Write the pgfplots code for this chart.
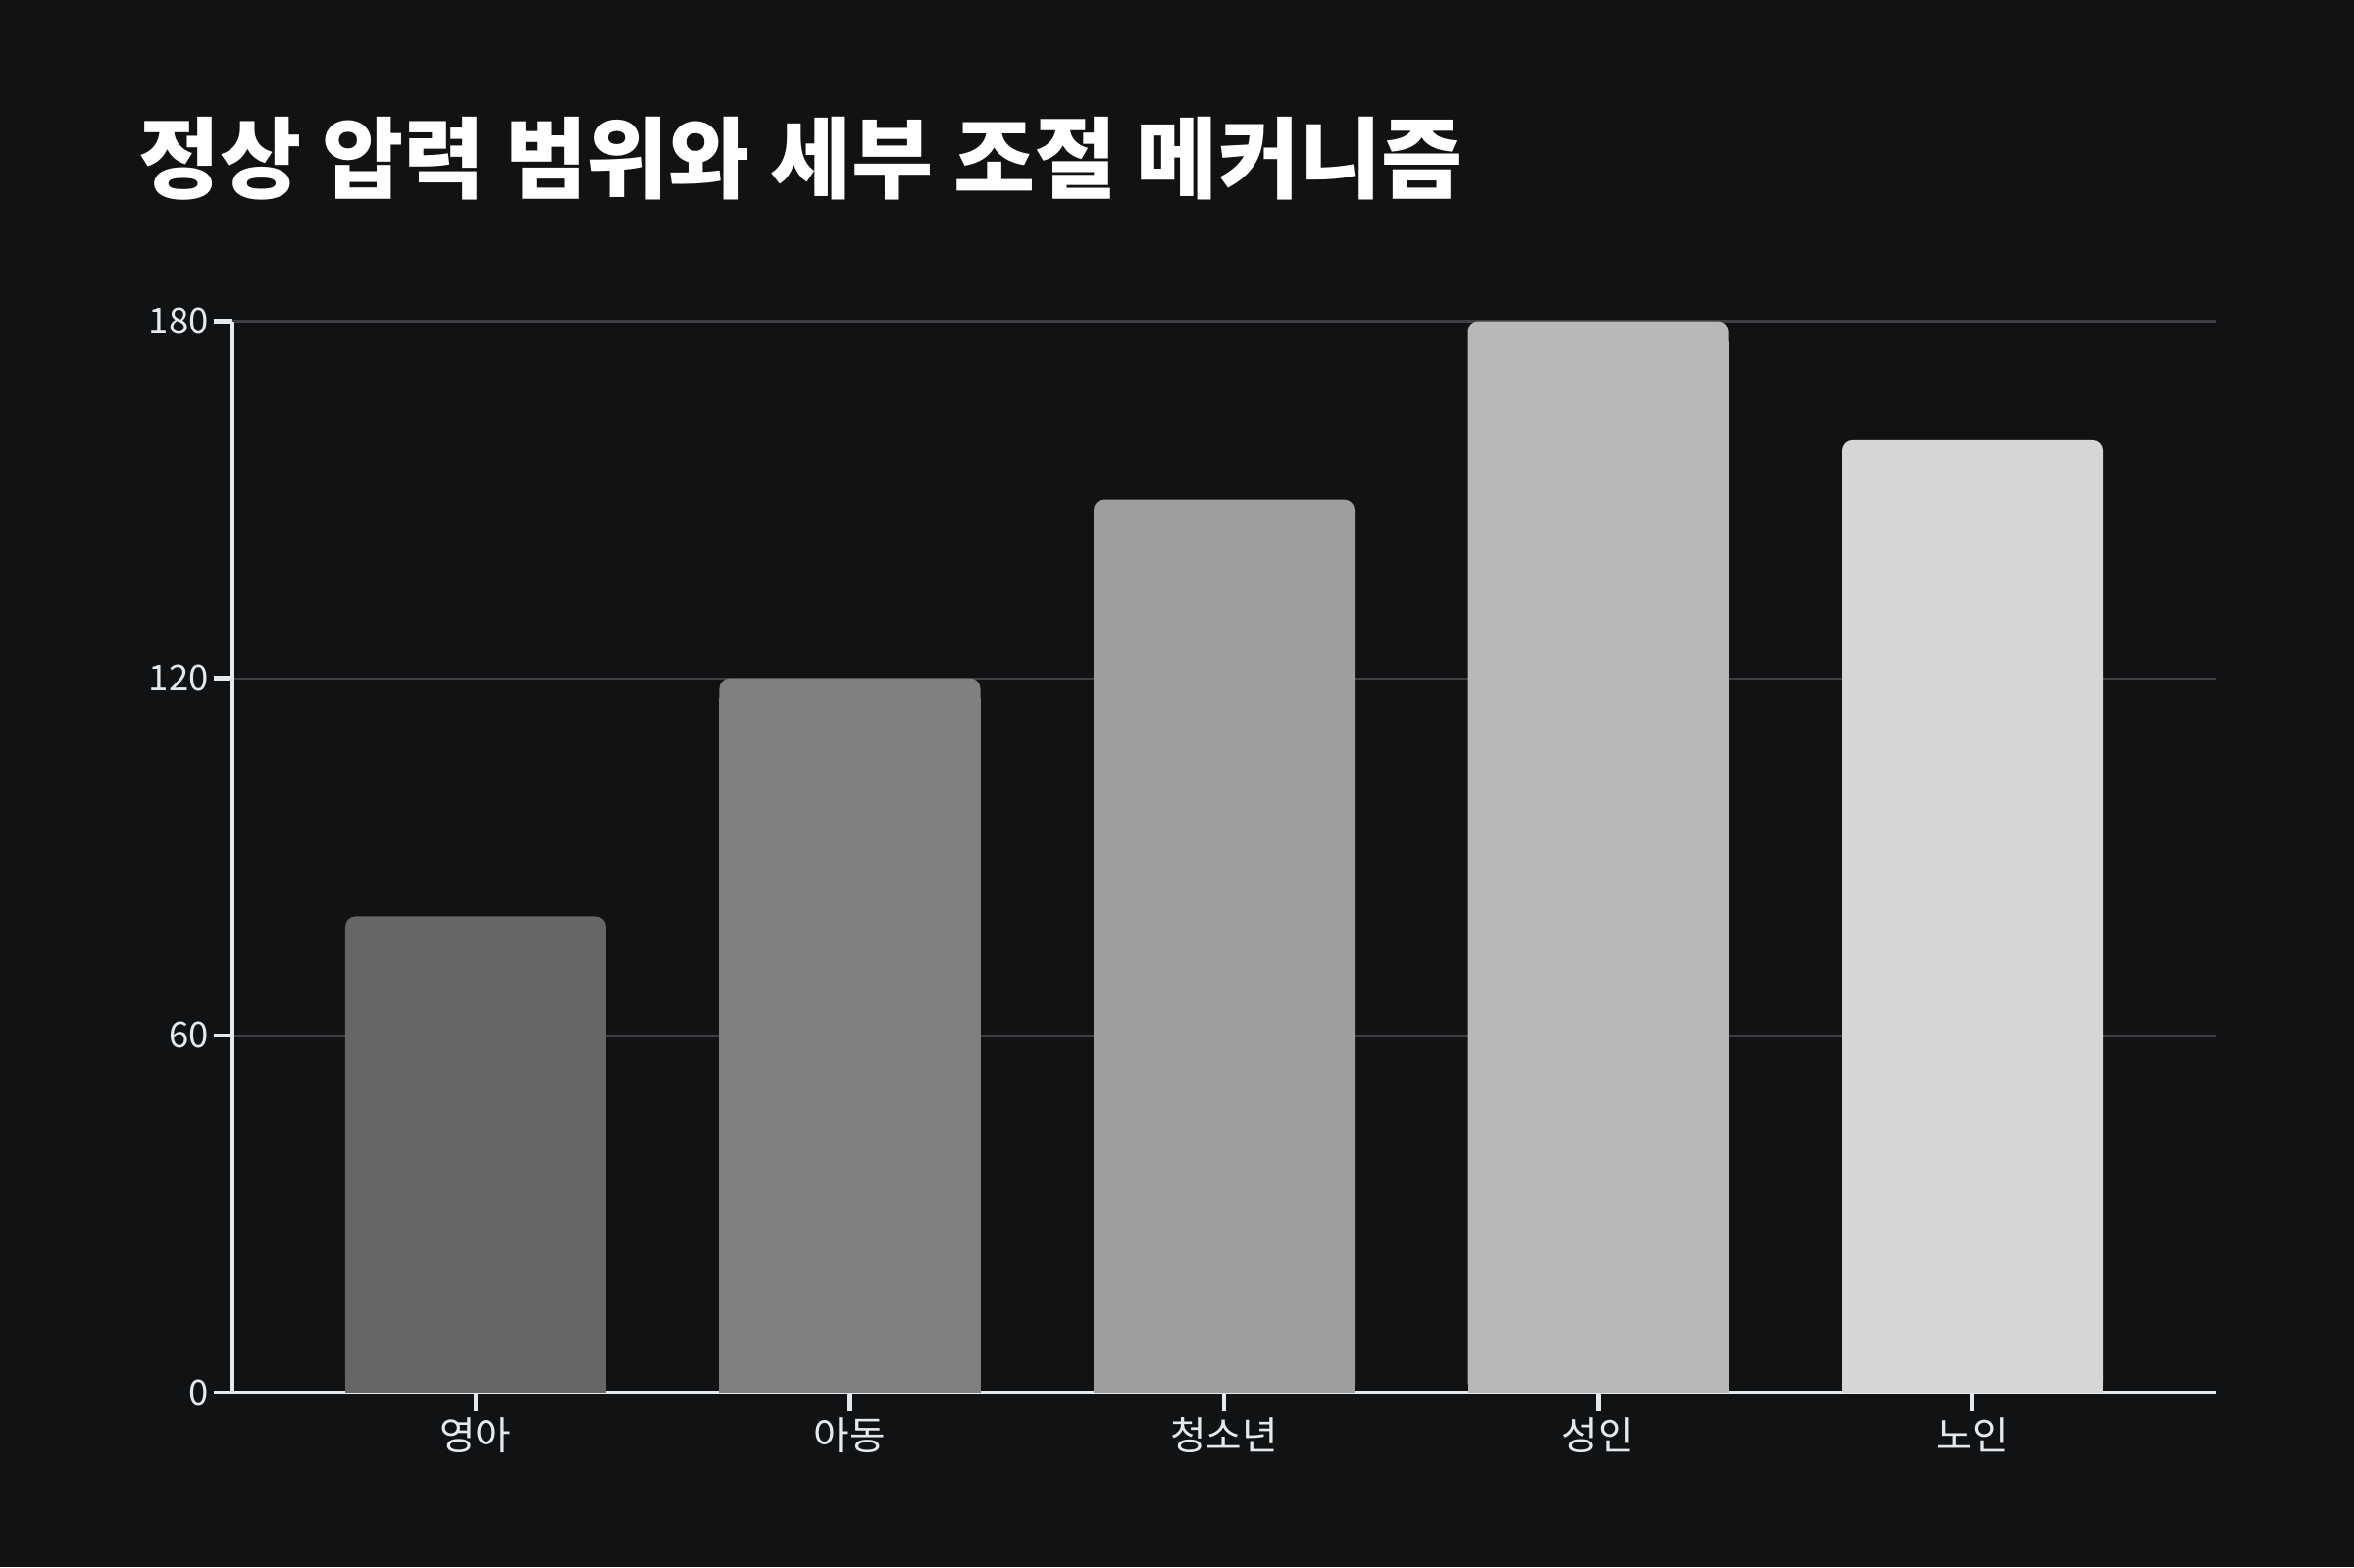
\documentclass[border=0pt]{standalone}
\usepackage{fontspec}
\setmainfont{Noto Sans CJK KR}
\usepackage{pgfplots}
\pgfplotsset{compat=1.18}
\definecolor{bgc}{HTML}{111214}
\definecolor{axc}{HTML}{E6E9EC}
\definecolor{gridc}{HTML}{3E3F42}
\definecolor{txtc}{HTML}{E6E9EC}
\definecolor{c1}{HTML}{666666}
\definecolor{c2}{HTML}{808080}
\definecolor{c3}{HTML}{9E9E9E}
\definecolor{c4}{HTML}{B8B8B8}
\definecolor{c5}{HTML}{D6D6D6}
\pgfplotsset{
  topbar/.style={fill=#1, draw=none, rounded corners=3pt},
  basebar/.style={fill=#1, draw=none, yshift=-0.2cm},
}
\begin{document}
\begin{tikzpicture}
\fill[bgc] (0,0) rectangle (24cm,15.98cm);
\node[anchor=west, text=white, font=\fontsize{25.7}{30}\selectfont\bfseries] at (1.29cm,14.36cm) {정상 압력 범위와 세부 조절 메커니즘};
\begin{axis}[
  at={(2.37cm,1.78cm)}, anchor=south west,
  scale only axis, width=20.22cm, height=10.925cm,
  ybar, bar width=2.66cm, bar shift=0pt,
  xmin=-0.65, xmax=4.65, ymin=0, ymax=180,
  axis x line*=bottom, axis y line*=left,
  axis line style={draw=axc, line width=1.3pt, -},
  xtick={0,1,2,3,4},
  xticklabels={영아,아동,청소년,성인,노인},
  ytick={0,60,120,180},
  tick align=outside,
  major tick length=0.19cm,
  tick style={draw=axc, line width=1.3pt},
  ymajorgrids,
  grid style={draw=gridc, line width=0.6pt},
  /pgf/number format/assume math mode=true,
  yticklabel style={font=\fontsize{10.4}{12}\selectfont, text=txtc, xshift=0.07cm},
  xticklabel style={font=\fontsize{11.3}{13}\selectfont, text=txtc, yshift=0.06cm},
]
\addplot[basebar=c1] coordinates {(0,80)};
\addplot[topbar=c1] coordinates {(0,80)};
\addplot[basebar=c2] coordinates {(1,120)};
\addplot[topbar=c2] coordinates {(1,120)};
\addplot[basebar=c3] coordinates {(2,150)};
\addplot[topbar=c3] coordinates {(2,150)};
\addplot[basebar=c4] coordinates {(3,180)};
\addplot[topbar=c4] coordinates {(3,180)};
\addplot[basebar=c5] coordinates {(4,160)};
\addplot[topbar=c5] coordinates {(4,160)};
\end{axis}
\end{tikzpicture}
\end{document}
